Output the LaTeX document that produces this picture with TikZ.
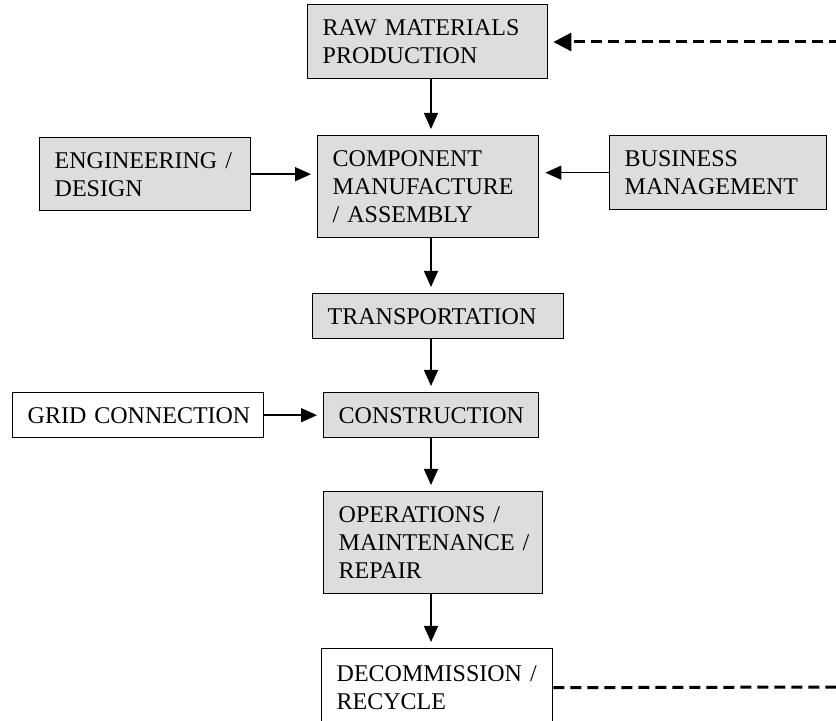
\documentclass[tikz,border=0pt]{standalone}
\usepackage{fontspec}
\setmainfont{Liberation Serif}
\usetikzlibrary{arrows.meta}
\definecolor{boxgray}{HTML}{DDDDDD}

\begin{document}
\begin{tikzpicture}[
  x=0.5pt, y=-0.5pt,
  stage/.style={
    draw, line width=0.7pt,
    fill=boxgray,
    anchor=north west,
    align=left,
    inner xsep=7.5pt,
    inner ysep=2pt,
    font=\fontsize{12}{14}\selectfont
  },
  plain/.style={stage, fill=white},                 % no shading
  flow/.style={draw, line width=0.75pt, -{Triangle[length=8pt,width=7pt]}, shorten >=3pt},
  loop/.style={draw, line width=1.5pt, dash pattern=on 5.5pt off 3pt}
]
\useasboundingbox (0,0) rectangle (836,721);

% --- nodes ---
\node[stage, text width=105pt, minimum height=37pt]    (raw)   at (307,4)   {RAW~MATERIALS\\PRODUCTION};
\node[stage, text width=95.5pt, minimum height=51pt]   (comp)  at (317,135) {COMPONENT\\MANUFACTURE\\/~ASSEMBLY};
\node[stage, text width=90.5pt, minimum height=36.5pt] (eng)   at (39,137)  {ENGINEERING~/\\DESIGN};
\node[stage, text width=93.5pt, minimum height=37pt]   (bus)   at (609,135) {BUSINESS\\MANAGEMENT};
\node[stage, text width=110.5pt, minimum height=22.5pt] (trans) at (312,293) {TRANSPORTATION};
\node[plain, text width=110.5pt, minimum height=22.5pt] (grid)  at (12,392)  {\mbox{GRID CONNECTION}};
\node[stage, text width=92.5pt, minimum height=22.5pt] (cons)  at (323,392) {CONSTRUCTION};
\node[stage, text width=94.5pt, minimum height=51pt]   (ops)   at (323,491) {OPERATIONS~/\\MAINTENANCE~/\\REPAIR};
\node[plain, text width=100.5pt, minimum height=39pt]  (decom) at (321,648) {DECOMMISSION~/\\RECYCLE};

\coordinate (spine) at (431,0);
\coordinate (loopin)  at (840,42);
\coordinate (loopout) at (840,687);

% --- main chain ---
\draw[flow] (raw.south -| spine)   -- (comp.north -| spine);
\draw[flow] (comp.south -| spine)  -- (trans.north -| spine);
\draw[flow] (trans.south -| spine) -- (cons.north -| spine);
\draw[flow] (cons.south -| spine)  -- (ops.north -| spine);
\draw[flow] (ops.south -| spine)   -- (decom.north -| spine);

% --- side inputs ---
\draw[flow] (eng.east) -- (eng.east -| comp.west);
\draw[flow] (bus.west) -- (bus.west -| comp.east);
\draw[flow] (grid.east) -- (grid.east -| cons.west);

% --- recycle loop (dashed) ---
\draw[loop] (decom.east) -- (loopout);
\draw[loop, -{Triangle[length=9pt,width=9pt]}, shorten >=2.5pt] (loopin) -- (loopin -| raw.east);

\end{tikzpicture}
\end{document}
